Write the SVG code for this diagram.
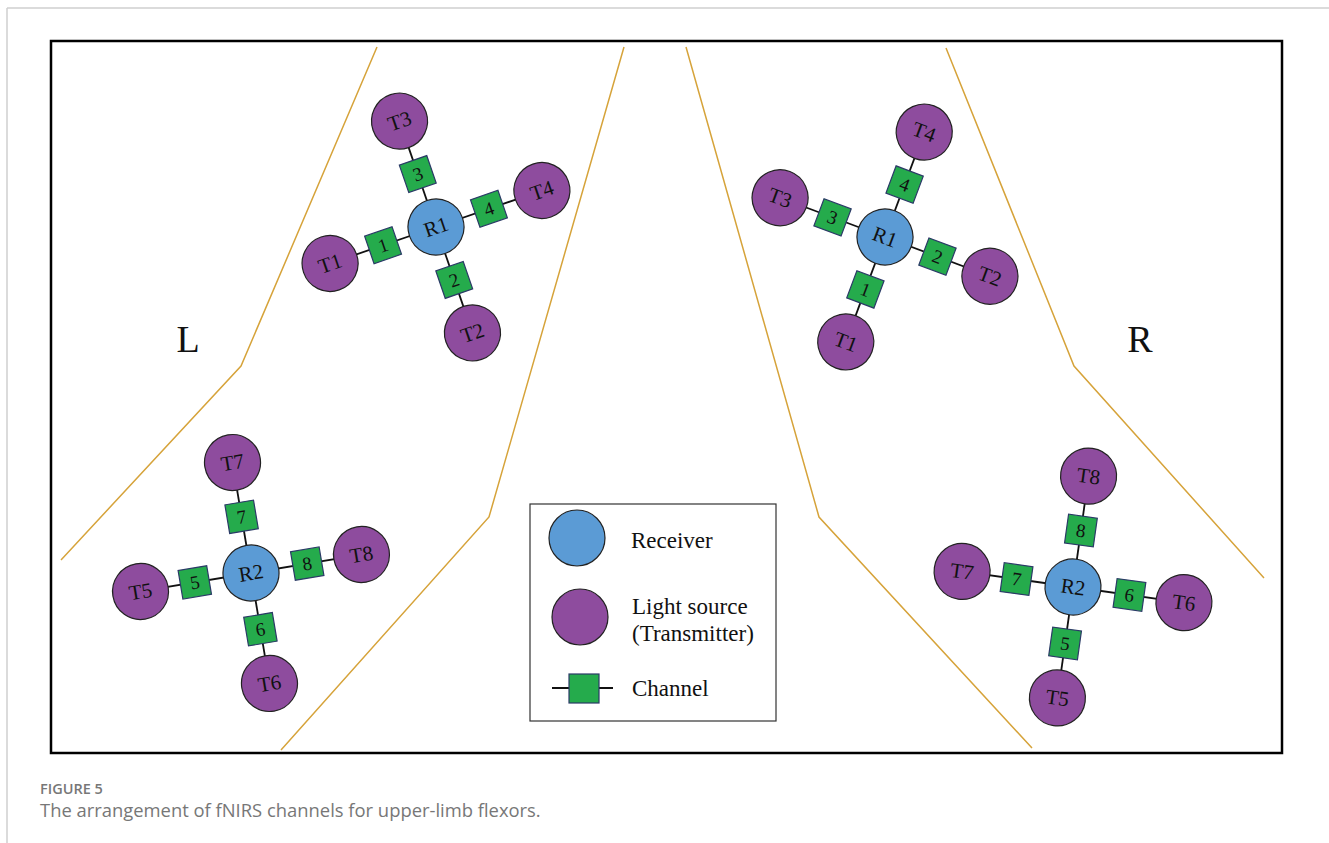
<svg xmlns="http://www.w3.org/2000/svg" width="1329" height="843" viewBox="0 0 1329 843">
<defs>
<style>
.t{fill:#8E4C9E;stroke:#222;stroke-width:1.2}
.r{fill:#5B9BD5;stroke:#222;stroke-width:1.2}
.s{fill:#25AB4C;stroke:#2B3A67;stroke-width:1.2}
.c{stroke:#111;stroke-width:1.8;fill:none}
.b{stroke:#D6A33A;stroke-width:1.5;fill:none}
.lt{font-family:"Liberation Serif","Times New Roman",serif;font-size:21px;fill:#111;text-anchor:middle}
.ls{font-family:"Liberation Serif","Times New Roman",serif;font-size:19px;fill:#111;text-anchor:middle}
.lg{font-family:"Liberation Serif","Times New Roman",serif;font-size:23px;fill:#111}
.side{font-family:"Liberation Serif","Times New Roman",serif;font-size:38px;fill:#111;text-anchor:middle}
.cap1{font-family:"Open Sans","Noto Sans",sans-serif;font-size:14.5px;font-weight:600;fill:#777}
.cap2{font-family:"Open Sans","Noto Sans",sans-serif;font-size:18.4px;fill:#777}
</style>
<g id="cross-shape">
<line class="c" x1="0" y1="0" x2="0" y2="-112"/>
<line class="c" x1="0" y1="0" x2="112" y2="0"/>
<line class="c" x1="0" y1="0" x2="0" y2="112"/>
<line class="c" x1="0" y1="0" x2="-112" y2="0"/>
</g>
</defs>
<rect x="0" y="0" width="1329" height="843" fill="#fff"/>
<line x1="7" y1="8" x2="1329" y2="8" stroke="#cfcfcf" stroke-width="1.5"/>
<line x1="7" y1="8" x2="7" y2="843" stroke="#cfcfcf" stroke-width="1.5"/>
<rect x="51" y="41" width="1231" height="712" fill="#fff" stroke="#000" stroke-width="2.5"/>

<g id="boundaries">
<polyline class="b" points="377,47 241,366 61,560"/>
<polyline class="b" points="624,47 489,517 281,750"/>
<polyline class="b" points="686,47 819,517 1032,748"/>
<polyline class="b" points="946,48 1074,366 1264,578"/>
</g>

<text class="side" x="188" y="352">L</text>
<text class="side" x="1140" y="352">R</text>

<!-- Top-left cluster -->
<g transform="translate(436,227) rotate(-19)">
<g id="connectors-L1"><use href="#cross-shape"/></g>
<g id="L-ch3"><rect class="s" x="-14.5" y="-70.5" width="29" height="29"/><text class="ls" x="0" y="-49.5">3</text></g>
<g id="L-ch4"><rect class="s" x="41.5" y="-14.5" width="29" height="29"/><text class="ls" x="56" y="6.5">4</text></g>
<g id="L-ch2"><rect class="s" x="-14.5" y="41.5" width="29" height="29"/><text class="ls" x="0" y="62.5">2</text></g>
<g id="L-ch1"><rect class="s" x="-70.5" y="-14.5" width="29" height="29"/><text class="ls" x="-56" y="6.5">1</text></g>
<g id="L-T3"><circle class="t" cx="0" cy="-112" r="28"/><text class="lt" x="0" y="-105">T3</text></g>
<g id="L-T4"><circle class="t" cx="112" cy="0" r="28"/><text class="lt" x="112" y="7">T4</text></g>
<g id="L-T2"><circle class="t" cx="0" cy="112" r="28"/><text class="lt" x="0" y="119">T2</text></g>
<g id="L-T1"><circle class="t" cx="-112" cy="0" r="28"/><text class="lt" x="-112" y="7">T1</text></g>
<g id="L-R1"><circle class="r" cx="0" cy="0" r="28"/><text class="lt" x="0" y="7">R1</text></g>
</g>

<!-- Bottom-left cluster -->
<g transform="translate(251,573) rotate(-9.5)">
<g id="connectors-L2"><use href="#cross-shape"/></g>
<g id="L-ch7"><rect class="s" x="-14.5" y="-71.5" width="29" height="29"/><text class="ls" x="0" y="-50.5">7</text></g>
<g id="L-ch8"><rect class="s" x="42.5" y="-14.5" width="29" height="29"/><text class="ls" x="57" y="6.5">8</text></g>
<g id="L-ch6"><rect class="s" x="-14.5" y="42.5" width="29" height="29"/><text class="ls" x="0" y="63.5">6</text></g>
<g id="L-ch5"><rect class="s" x="-71.5" y="-14.5" width="29" height="29"/><text class="ls" x="-57" y="6.5">5</text></g>
<g id="L-T7"><circle class="t" cx="0" cy="-112" r="28"/><text class="lt" x="0" y="-105">T7</text></g>
<g id="L-T8"><circle class="t" cx="112" cy="0" r="28"/><text class="lt" x="112" y="7">T8</text></g>
<g id="L-T6"><circle class="t" cx="0" cy="112" r="28"/><text class="lt" x="0" y="119">T6</text></g>
<g id="L-T5"><circle class="t" cx="-112" cy="0" r="28"/><text class="lt" x="-112" y="7">T5</text></g>
<g id="L-R2"><circle class="r" cx="0" cy="0" r="28"/><text class="lt" x="0" y="7">R2</text></g>
</g>

<!-- Top-right cluster -->
<g transform="translate(885,237) rotate(20.5)">
<g id="connectors-R1"><use href="#cross-shape"/></g>
<g id="R-ch4"><rect class="s" x="-14.5" y="-70.5" width="29" height="29"/><text class="ls" x="0" y="-49.5">4</text></g>
<g id="R-ch2"><rect class="s" x="41.5" y="-14.5" width="29" height="29"/><text class="ls" x="56" y="6.5">2</text></g>
<g id="R-ch1"><rect class="s" x="-14.5" y="41.5" width="29" height="29"/><text class="ls" x="0" y="62.5">1</text></g>
<g id="R-ch3"><rect class="s" x="-70.5" y="-14.5" width="29" height="29"/><text class="ls" x="-56" y="6.5">3</text></g>
<g id="R-T4"><circle class="t" cx="0" cy="-112" r="28"/><text class="lt" x="0" y="-105">T4</text></g>
<g id="R-T2"><circle class="t" cx="112" cy="0" r="28"/><text class="lt" x="112" y="7">T2</text></g>
<g id="R-T1"><circle class="t" cx="0" cy="112" r="28"/><text class="lt" x="0" y="119">T1</text></g>
<g id="R-T3"><circle class="t" cx="-112" cy="0" r="28"/><text class="lt" x="-112" y="7">T3</text></g>
<g id="R-R1"><circle class="r" cx="0" cy="0" r="28"/><text class="lt" x="0" y="7">R1</text></g>
</g>

<!-- Bottom-right cluster -->
<g transform="translate(1073,587) rotate(8)">
<g id="connectors-R2"><use href="#cross-shape"/></g>
<g id="R-ch8"><rect class="s" x="-14.5" y="-71.5" width="29" height="29"/><text class="ls" x="0" y="-50.5">8</text></g>
<g id="R-ch6"><rect class="s" x="42.5" y="-14.5" width="29" height="29"/><text class="ls" x="57" y="6.5">6</text></g>
<g id="R-ch5"><rect class="s" x="-14.5" y="42.5" width="29" height="29"/><text class="ls" x="0" y="63.5">5</text></g>
<g id="R-ch7"><rect class="s" x="-71.5" y="-14.5" width="29" height="29"/><text class="ls" x="-57" y="6.5">7</text></g>
<g id="R-T8"><circle class="t" cx="0" cy="-112" r="28"/><text class="lt" x="0" y="-105">T8</text></g>
<g id="R-T6"><circle class="t" cx="112" cy="0" r="28"/><text class="lt" x="112" y="7">T6</text></g>
<g id="R-T5"><circle class="t" cx="0" cy="112" r="28"/><text class="lt" x="0" y="119">T5</text></g>
<g id="R-T7"><circle class="t" cx="-112" cy="0" r="28"/><text class="lt" x="-112" y="7">T7</text></g>
<g id="R-R2"><circle class="r" cx="0" cy="0" r="28"/><text class="lt" x="0" y="7">R2</text></g>
</g>

<!-- Legend -->
<g id="legend">
<rect x="530" y="504" width="246" height="217" fill="#fff" stroke="#333" stroke-width="1.2"/>
<circle class="r" cx="577" cy="538" r="28"/>
<text class="lg" x="631" y="548">Receiver</text>
<circle class="t" cx="580" cy="617" r="28"/>
<text class="lg" x="632" y="614">Light source</text>
<text class="lg" x="632" y="641">(Transmitter)</text>
<line class="c" x1="552" y1="688" x2="613" y2="688"/>
<rect class="s" x="569" y="674" width="30" height="29"/>
<text class="lg" x="632" y="696">Channel</text>
</g>

<text class="cap1" x="40" y="794">FIGURE 5</text>
<text class="cap2" x="40" y="817">The arrangement of fNIRS channels for upper-limb flexors.</text>
</svg>
